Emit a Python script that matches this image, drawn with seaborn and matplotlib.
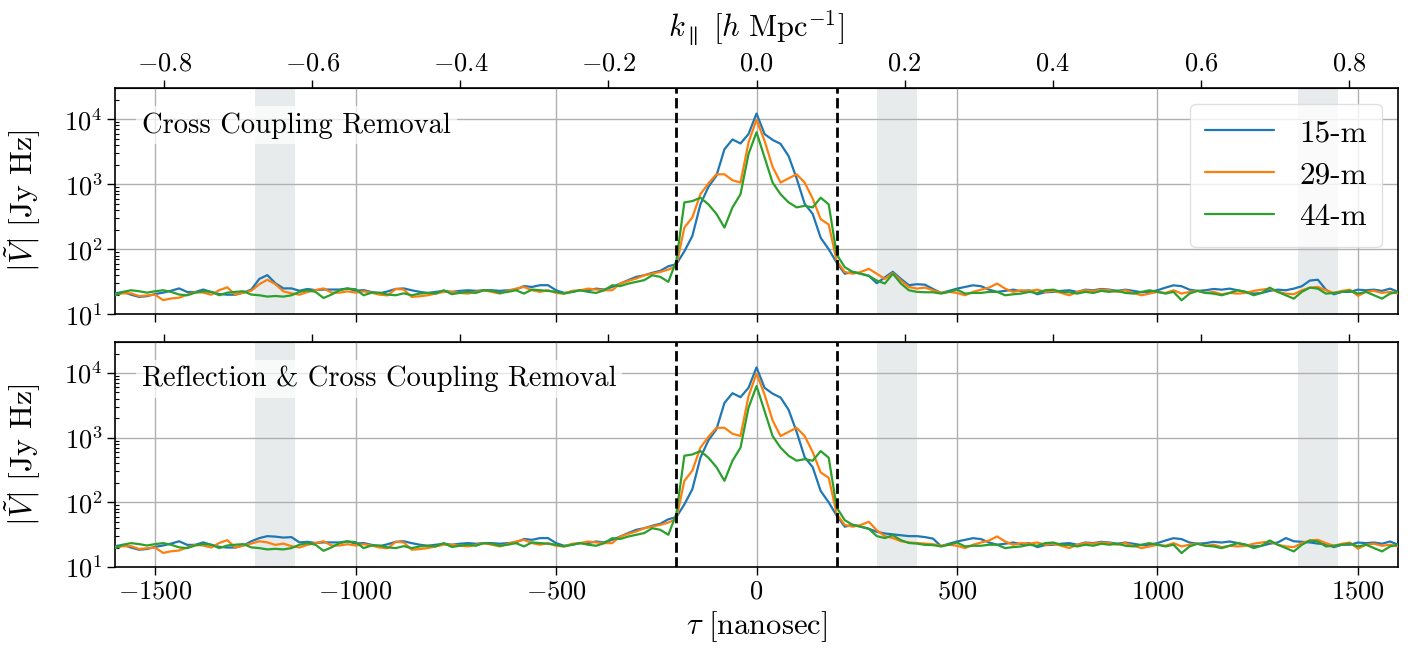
import numpy as np
import pandas as pd
import matplotlib
matplotlib.use('Agg')
import matplotlib.pyplot as plt
import seaborn as sns

# delay bins (20 ns sampling)
tau_ns = np.arange(-1600, 1601, 20)

# top panel: cross coupling removal
vis_15m = [21, 22, 20, 18.5, 19, 20.5, 21.5, 23, 25, 22, 22, 24, 22, 20.5, 20, 20, 21.5, 24, 35, 40,
           30, 25, 25, 23, 24.5, 23.5, 24, 24, 24, 25, 23, 23.5, 22, 21, 22.5, 24.5, 25,
           23.4, 22.1, 21.3, 22.1, 22.9, 22.1, 22.9, 23.4, 22.9, 23.4, 23.4, 22.9, 23.4, 24, 27.1, 26.3,
           28, 28, 23.4, 21.3, 22.1, 23.4, 23.4, 24.8, 24, 26.3, 29.6, 33.5, 37.6, 39.8, 43.4, 46.6, 54.7,
           59, 93, 160, 490, 910, 1350, 3450, 4870, 4230, 5900, 12200, 5900, 4800, 4170, 2700, 1230,
           500, 350, 150, 100, 62,
           42, 45, 42, 39, 30, 37, 45, 35, 28, 29, 28.5, 24.5, 21.3, 22.9, 24.8, 26.3, 27.9, 27, 23.9, 22.1,
           22.9, 23.9, 22.6, 23.4, 20.3, 21.8, 22.1, 22.9, 23.4, 22.1, 23.9, 23.4, 24.5, 23.9, 22.9, 23.9,
           22.9, 21.8, 22.1, 23.4, 25.7, 27.9, 27, 23.9, 22.9, 23.4, 24.5, 23.9, 24.8, 23.4, 22.1, 20.8,
           21.3, 22.9, 23.9, 23.4, 24.8, 27, 33, 34, 23.9, 20.3, 22.1, 22.1, 23.9, 23.4, 23.9, 22.9, 24.8, 22.1]
vis_29m = [20, 21, 21, 19, 19.5, 20, 16.5, 17.5, 18, 20, 22, 21.5, 20, 23.5, 26, 20, 21.5, 23, 29, 34,
           29, 22.5, 21, 20, 22, 23.5, 25, 21.5, 21.5, 22.5, 21.5, 22.5, 21.5, 20, 19.5, 24.5, 24,
           18.5, 18.9, 19.6, 20.8, 22.1, 22.1, 21.3, 20.8, 22.1, 23.4, 22.1, 20.8, 22.9, 24.8, 26.3, 23.4,
           22.1, 23.4, 21.3, 20.8, 22.9, 23.4, 24.8, 24, 23.4, 23.4, 29.6, 32.6, 35.4, 39.8, 42.3, 44.8, 48.7,
           55, 215, 310, 700, 1030, 1420, 1420, 1150, 1060, 4370, 9800, 4650, 1850, 1060, 1230, 1420,
           1060, 600, 290, 240, 66,
           44.7, 42, 44.7, 50, 42, 35, 43, 33, 26.3, 24.8, 25.7, 23.4, 21.3, 22.1, 21.3, 19.6, 22.1, 23.9,
           25.7, 29.7, 24.8, 22.1, 23.4, 22.9, 23.9, 22.1, 22.9, 21.3, 19.6, 22.1, 23.4, 22.9, 23.9, 23.4,
           22.1, 23.4, 21.3, 19.6, 20.8, 22.1, 21.3, 23.4, 20.8, 22.1, 22.9, 21.3, 22.1, 20.3, 21.3, 20.8,
           21.3, 22.9, 23.9, 24.8, 22.1, 20.8, 20.3, 23.4, 25.7, 26.3, 23.4, 21.3, 22.9, 23.9, 19.2, 22.1,
           22.9, 21.3, 22.1, 20.8]
vis_44m = [19.6, 22.1, 23.4, 22.6, 21.5, 22.6, 23.4, 22.1, 20.1, 19.6, 21.5, 22.6, 22.1, 19.6, 21.5,
           22.1, 22.6, 20.1, 19.6, 18.7, 19.1, 18.7, 19.6, 22.1, 23.4, 22.1, 17.8, 20.1, 23.4, 24.8, 24.3,
           19.6, 21.5, 21.5, 20.1, 19.6, 21,
           19.6, 20.8, 21.3, 20.8, 23.4, 20.4, 21.3, 22.1, 21.3, 23.4, 22.9, 21.3, 22.1, 23.4, 20.8, 24,
           23.4, 22.9, 22.1, 20.8, 22.1, 23.4, 22.1, 21.3, 23.4, 27.9, 27.1, 29.6, 31.5, 33.5, 39.8, 37.6, 31.5,
           66, 525, 550, 620, 490, 350, 215, 440, 700, 2900, 6300, 2600, 1060, 700, 525, 440,
           465, 440, 620, 490, 83,
           53, 44.7, 42, 39, 33, 29.7, 42, 29.7, 23.4, 22.1, 21.8, 21.8, 20.8, 22.1, 23.9, 20.8, 21.3, 21.3,
           22.1, 22.1, 19.6, 20.3, 20.8, 22.1, 21.3, 23.4, 23.9, 22.1, 21.8, 20.8, 22.1, 21.3, 22.9, 22.1,
           22.9, 21.3, 20.8, 22.1, 23.4, 22.1, 20.8, 22.1, 16.4, 20.8, 22.9, 21.3, 20.8, 19.6, 21.3, 23.4,
           22.1, 19.6, 21.3, 25.7, 22.1, 19.6, 17.4, 22.1, 25.7, 24.8, 20.8, 21.3, 22.1, 22.9, 20.8, 22.1,
           19.6, 17.4, 20.8, 22.1]

# bottom panel: same as top except inside the shaded bands (reflections removed)
band1_idx = list(range(17, 24))      # tau -1260 .. -1140
band1_15m = [25, 28, 30, 29.5, 28.5, 29, 24]
band1_29m = [23, 25, 24, 22, 23, 21, 20]
band2_idx = list(range(95, 104))     # tau 300 .. 460
band2_15m = [35, 33, 32, 31, 30, 30, 29, 27.5, 21]
band2_29m = [37, 30, 28, 25, 24, 23.5, 23, 22.5, 21.3]
band2_44m = [30, 28, 31, 26, 23.5, 23, 22, 21.8, 20.8]
band3_idx = [146, 147, 148, 149, 150, 151]   # tau 1320 .. 1420
band3_15m = [28, 25, 24.5, 24, 23, 22.5]

labels = ['15-m', '29-m', '44-m']
colors = ['#1f77b4', '#ff7f0e', '#2ca02c']
bands = [(-1250, -1150), (300, 400), (1350, 1450)]
panel_titles = ['Cross Coupling Removal', 'Reflection & Cross Coupling Removal']
horizon = 200
k_per_ns = 0.8 / 1477.5

top_series = [np.array(vis_15m, float), np.array(vis_29m, float), np.array(vis_44m, float)]
bot_series = [s.copy() for s in top_series]
bot_series[0][band1_idx] = band1_15m
bot_series[1][band1_idx] = band1_29m
bot_series[0][band2_idx] = band2_15m
bot_series[1][band2_idx] = band2_29m
bot_series[2][band2_idx] = band2_44m
bot_series[0][band3_idx] = band3_15m

sns.set_style('ticks')
plt.rcParams['font.family'] = 'serif'
plt.rcParams['font.serif'] = ['cmr10']
plt.rcParams['mathtext.fontset'] = 'cm'
plt.rcParams['axes.formatter.use_mathtext'] = True
plt.rcParams['axes.unicode_minus'] = True
for key in ['axes.edgecolor', 'xtick.color', 'ytick.color', 'text.color', 'axes.labelcolor']:
    plt.rcParams[key] = 'black'

fig = plt.figure(figsize=(14.25, 6.48), dpi=100)
ax_top = fig.add_axes([0.0807, 0.515, 0.9004, 0.349])
ax_bot = fig.add_axes([0.0807, 0.125, 0.9004, 0.347])

for ax, series, title, show_legend in [(ax_top, top_series, panel_titles[0], True),
                                       (ax_bot, bot_series, panel_titles[1], False)]:
    for lo, hi in bands:
        ax.axvspan(lo, hi, color='#e8ebec', zorder=0, lw=0)
    for vals, lab, col in zip(series, labels, colors):
        sns.lineplot(x=tau_ns, y=vals, ax=ax, color=col, lw=1.6, label=lab if show_legend else None,
                     legend=show_legend, zorder=3)
    ax.axvline(-horizon, color='black', ls='--', lw=2, zorder=4)
    ax.axvline(horizon, color='black', ls='--', lw=2, zorder=4)
    ax.set_yscale('log')
    ax.set_ylim(10, 3e4)
    ax.set_xlim(-1600, 1600)
    ax.set_yticks([1e1, 1e2, 1e3, 1e4])
    ax.grid(True, which='major', color='#b0b0b0', lw=1.0, zorder=1)
    ax.set_axisbelow(True)
    ax.tick_params(axis='both', which='major', labelsize=19, length=5.5, width=1)
    ax.tick_params(axis='y', which='minor', direction='in', length=3, width=0.8)
    ax.set_ylabel(r'$|\tilde{V}|\ [\mathrm{Jy\ Hz}]$', fontsize=23)
    ax.yaxis.set_label_coords(-0.056, 0.5)
    ax.text(0.021, 0.835, title, transform=ax.transAxes, fontsize=20.5, ha='left', va='center',
            zorder=5, bbox=dict(facecolor='white', alpha=0.7, edgecolor='none', pad=4))
    for sp in ax.spines.values():
        sp.set_linewidth(1.2)
    sec = ax.secondary_xaxis('top', functions=(lambda t: t * k_per_ns, lambda k: k / k_per_ns))
    sec.set_xticks([-0.8, -0.6, -0.4, -0.2, 0.0, 0.2, 0.4, 0.6, 0.8])
    sec.tick_params(labelsize=19, length=5.5, width=1)
    if ax is ax_top:
        sec.set_xlabel(r'$k_\parallel\ [h\ \mathrm{Mpc}^{-1}]$', fontsize=22, labelpad=11)
        ax.tick_params(axis='x', labelbottom=False)
        ax.set_xlabel('')
    else:
        sec.tick_params(labeltop=False)
        ax.set_xlabel(r'$\tau\ [\mathrm{nanosec}]$', fontsize=22)

leg = ax_top.legend(loc='upper right', fontsize=22.5, handlelength=2.2, handletextpad=0.8,
                    labelspacing=0.45, borderpad=0.5, framealpha=0.8)
leg.get_frame().set_edgecolor('0.85')

fig.savefig('out.png', dpi=100)
